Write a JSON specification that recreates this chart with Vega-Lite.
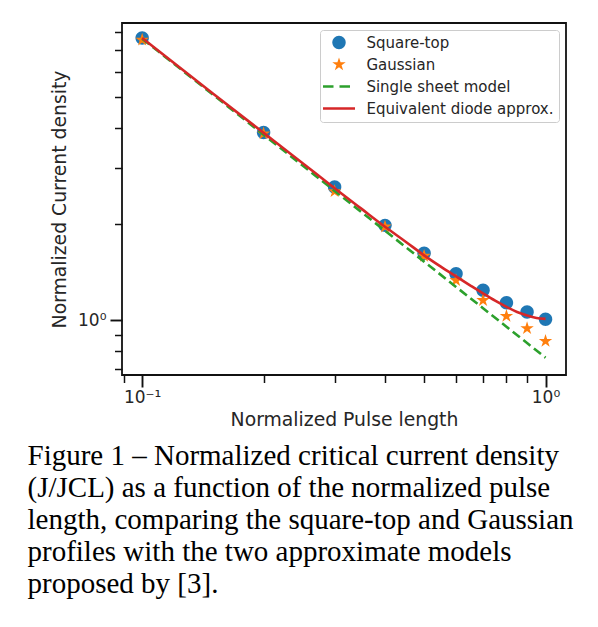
{
  "$schema": "https://vega.github.io/schema/vega-lite/v6.json",
  "width": 444,
  "height": 352,
  "padding": {"left": 27, "top": 22, "right": 5, "bottom": 5},
  "background": "white",
  "data": {
    "values": [
      {"x": 0.1, "y": 7.66, "series": "Square-top"},
      {"x": 0.2, "y": 3.87, "series": "Square-top"},
      {"x": 0.3, "y": 2.61, "series": "Square-top"},
      {"x": 0.4, "y": 1.98, "series": "Square-top"},
      {"x": 0.5, "y": 1.62, "series": "Square-top"},
      {"x": 0.6, "y": 1.397, "series": "Square-top"},
      {"x": 0.7, "y": 1.239, "series": "Square-top"},
      {"x": 0.8, "y": 1.133, "series": "Square-top"},
      {"x": 0.9, "y": 1.06, "series": "Square-top"},
      {"x": 1.0, "y": 1.005, "series": "Square-top"},
      {"x": 0.1, "y": 7.55, "series": "Gaussian"},
      {"x": 0.2, "y": 3.84, "series": "Gaussian"},
      {"x": 0.3, "y": 2.53, "series": "Gaussian"},
      {"x": 0.4, "y": 1.96, "series": "Gaussian"},
      {"x": 0.5, "y": 1.587, "series": "Gaussian"},
      {"x": 0.6, "y": 1.332, "series": "Gaussian"},
      {"x": 0.7, "y": 1.153, "series": "Gaussian"},
      {"x": 0.8, "y": 1.029, "series": "Gaussian"},
      {"x": 0.9, "y": 0.942, "series": "Gaussian"},
      {"x": 1.0, "y": 0.859, "series": "Gaussian"},
      {"x": 0.1, "y": 7.62, "series": "Single sheet model"},
      {"x": 0.2, "y": 3.81, "series": "Single sheet model"},
      {"x": 0.3, "y": 2.54, "series": "Single sheet model"},
      {"x": 0.4, "y": 1.905, "series": "Single sheet model"},
      {"x": 0.5, "y": 1.524, "series": "Single sheet model"},
      {"x": 0.6, "y": 1.27, "series": "Single sheet model"},
      {"x": 0.7, "y": 1.089, "series": "Single sheet model"},
      {"x": 0.8, "y": 0.953, "series": "Single sheet model"},
      {"x": 0.9, "y": 0.847, "series": "Single sheet model"},
      {"x": 1.0, "y": 0.762, "series": "Single sheet model"},
      {"x": 0.1, "y": 7.66, "series": "Equivalent diode approx."},
      {"x": 0.15, "y": 5.12, "series": "Equivalent diode approx."},
      {"x": 0.2, "y": 3.86, "series": "Equivalent diode approx."},
      {"x": 0.25, "y": 3.1, "series": "Equivalent diode approx."},
      {"x": 0.3, "y": 2.59, "series": "Equivalent diode approx."},
      {"x": 0.35, "y": 2.23, "series": "Equivalent diode approx."},
      {"x": 0.4, "y": 1.96, "series": "Equivalent diode approx."},
      {"x": 0.45, "y": 1.76, "series": "Equivalent diode approx."},
      {"x": 0.5, "y": 1.595, "series": "Equivalent diode approx."},
      {"x": 0.55, "y": 1.47, "series": "Equivalent diode approx."},
      {"x": 0.6, "y": 1.37, "series": "Equivalent diode approx."},
      {"x": 0.65, "y": 1.285, "series": "Equivalent diode approx."},
      {"x": 0.7, "y": 1.212, "series": "Equivalent diode approx."},
      {"x": 0.75, "y": 1.15, "series": "Equivalent diode approx."},
      {"x": 0.8, "y": 1.1, "series": "Equivalent diode approx."},
      {"x": 0.85, "y": 1.06, "series": "Equivalent diode approx."},
      {"x": 0.9, "y": 1.033, "series": "Equivalent diode approx."},
      {"x": 0.95, "y": 1.015, "series": "Equivalent diode approx."},
      {"x": 1.0, "y": 1.008, "series": "Equivalent diode approx."}
    ]
  },
  "title": {
    "text": [
      "Figure 1 – Normalized critical current density",
      "(J/JCL) as a function of the normalized pulse",
      "length, comparing the square-top and Gaussian",
      "profiles with the two approximate models",
      "proposed by [3]."
    ],
    "orient": "bottom",
    "anchor": "start",
    "frame": "group",
    "dx": -94.5,
    "offset": 13,
    "baseline": "top",
    "align": "left",
    "font": "Liberation Serif",
    "fontSize": 29,
    "fontWeight": "normal",
    "lineHeight": 32,
    "color": "black"
  },
  "encoding": {
    "x": {
      "field": "x",
      "type": "quantitative",
      "scale": {"type": "log", "domain": [0.08913, 1.124], "nice": false},
      "axis": {
        "title": "Normalized Pulse length",
        "values": [0.09, 0.1, 0.2, 0.3, 0.4, 0.5, 0.6, 0.7, 0.8, 0.9, 1],
        "labelExpr": "datum.value === 0.1 ? '10⁻¹' : datum.value === 1 ? '10⁰' : ''",
        "tickSize": {"condition": {"test": "datum.value === 0.1 || datum.value === 1", "value": 12}, "value": 7.5},
        "tickWidth": {"condition": {"test": "datum.value === 0.1 || datum.value === 1", "value": 1.9}, "value": 1.5},
        "labelPadding": 2,
        "titlePadding": 5,
        "labelOverlap": false,
        "labelFlush": false,
        "labelBound": false
      }
    },
    "y": {
      "field": "y",
      "type": "quantitative",
      "scale": {"type": "log", "domain": [0.6725, 8.53], "nice": false},
      "axis": {
        "title": "Normalized Current density",
        "values": [0.7, 0.8, 0.9, 1, 2, 3, 4, 5, 6, 7, 8],
        "labelExpr": "datum.value === 1 ? '10⁰' : ''",
        "tickSize": {"condition": {"test": "datum.value === 1", "value": 12}, "value": 7.5},
        "tickWidth": {"condition": {"test": "datum.value === 1", "value": 1.9}, "value": 1.5},
        "labelPadding": 4,
        "titlePadding": 8,
        "labelOverlap": false,
        "labelFlush": false,
        "labelBound": false
      }
    }
  },
  "layer": [
    {
      "transform": [{"filter": "datum.series === 'Square-top'"}],
      "mark": {"type": "point", "filled": true, "opacity": 1, "size": 1024, "shape": "M-0.42,0A0.42,0.42,0,1,1,0.42,0A0.42,0.42,0,1,1,-0.42,0Z"},
      "encoding": {
        "color": {
          "field": "series",
          "type": "nominal",
          "scale": {"domain": ["Square-top", "Gaussian", "Single sheet model", "Equivalent diode approx."], "range": ["#1f77b4", "#ff7f0e", "#2ca02c", "#d62728"]},
          "legend": {
            "title": null,
            "orient": "top-right",
            "offset": 7,
            "padding": 5,
            "strokeColor": "#cccccc",
            "fillColor": "rgba(255,255,255,0.8)",
            "cornerRadius": 3,
            "labelFont": "DejaVu Sans",
            "labelFontSize": 15,
            "labelColor": "#262626",
            "labelLimit": 400,
            "symbolSize": 140,
            "symbolOffset": 6.5,
            "labelOffset": 19.9,
            "rowPadding": 6,
            "encoding": {
              "symbols": {
                "shape": {"value": {"expr": "datum.value === 'Square-top' ? 'M-1.1325,0A1.1325,1.1325,0,1,1,1.1325,0A1.1325,1.1325,0,1,1,-1.1325,0Z' : datum.value === 'Gaussian' ? 'M0,-1.19L0.2669,-0.3675L1.1318,-0.3678L0.4322,0.1404L0.6994,0.9628L0,0.4544L-0.6994,0.9628L-0.4322,0.1404L-1.1318,-0.3678L-0.2669,-0.3675Z' : 'M-2.7045,0L2.7045,0'"}},
                "fill": {"value": {"expr": "datum.value === 'Square-top' ? '#1f77b4' : datum.value === 'Gaussian' ? '#ff7f0e' : null"}},
                "stroke": {"value": {"expr": "datum.value === 'Single sheet model' ? '#2ca02c' : datum.value === 'Equivalent diode approx.' ? '#d62728' : null"}},
                "strokeWidth": {"value": 2.6},
                "strokeDash": {"value": {"expr": "datum.value === 'Single sheet model' ? [10.5, 6] : [1, 0]"}},
                "size": {"value": 140},
                "opacity": {"value": 1}
              }
            }
          }
        }
      }
    },
    {
      "transform": [{"filter": "datum.series === 'Gaussian'"}],
      "mark": {"type": "point", "filled": true, "opacity": 1, "size": 1024, "shape": "M0,-0.44L0.0987,-0.1359L0.4185,-0.136L0.1598,0.0519L0.2586,0.356L0,0.168L-0.2586,0.356L-0.1598,0.0519L-0.4185,-0.136L-0.0987,-0.1359Z"},
      "encoding": {
        "color": {
          "field": "series",
          "type": "nominal",
          "scale": {"domain": ["Square-top", "Gaussian", "Single sheet model", "Equivalent diode approx."], "range": ["#1f77b4", "#ff7f0e", "#2ca02c", "#d62728"]}
        }
      }
    },
    {
      "transform": [{"filter": "datum.series === 'Single sheet model'"}],
      "mark": {"type": "line", "color": "#2ca02c", "strokeWidth": 2.6, "strokeDash": [9, 4.5]},
      "encoding": {}
    },
    {
      "transform": [{"filter": "datum.series === 'Equivalent diode approx.'"}],
      "mark": {"type": "line", "color": "#d62728", "strokeWidth": 2.6, "interpolate": "monotone"},
      "encoding": {}
    }
  ],
  "config": {
    "view": {"stroke": "#111111", "strokeWidth": 1.8},
    "axis": {
      "grid": false,
      "domain": false,
      "tickColor": "#111111",
      "labelFont": "DejaVu Sans",
      "labelFontSize": 17,
      "labelColor": "#262626",
      "titleFont": "DejaVu Sans",
      "titleFontSize": 18.8,
      "titleFontWeight": "normal",
      "titleColor": "#262626"
    }
  }
}
